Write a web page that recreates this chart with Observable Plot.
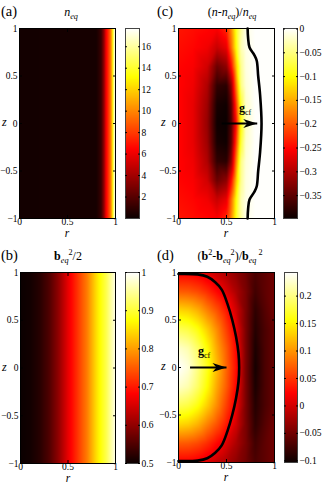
<!DOCTYPE html>
<html><head><meta charset="utf-8">
<script src="https://cdn.jsdelivr.net/npm/d3@7"></script>
<script src="https://cdn.jsdelivr.net/npm/@observablehq/plot@0.6"></script>
<style>
body{margin:0;background:#fff;}
#fig{position:relative;width:323px;height:486px;overflow:hidden;font-family:"Liberation Serif",serif;}
#fig svg{position:absolute;overflow:visible;font-family:"Liberation Serif",serif !important;}
#fig svg text{font-family:"Liberation Serif",serif !important;}
</style></head>
<body><div id="fig"></div>
<script>
// ---------- data ----------
const zGrid = [1, 0.8, 0.6, 0.4, 0.2, 0, -0.2, -0.4, -0.6, -0.8, -1];
const xTicks = [0, 0.5, 1];
const yTicks = [-1, -0.5, 0, 0.5, 1];

// (a) n_eq, radial profile
const rA = [0, 0.8, 0.85, 0.88, 0.9, 0.93, 0.95, 0.96, 0.97, 0.98, 0.99, 1];
const nEq = [0.2, 0.3, 1.2, 3.5, 6, 8, 9.5, 11, 13, 15, 17, 17.6];
const ticksA = [2, 4, 6, 8, 10, 12, 14, 16];
const rangeA = [0, 17.7];

// (b) b_eq^2/2, radial profile
const rB = [0, 0.1, 0.2, 0.3, 0.4, 0.5, 0.6, 0.7, 0.8, 0.9, 1];
const bEq2 = [0.5, 0.505, 0.52, 0.55, 0.6, 0.665, 0.72, 0.775, 0.85, 0.91, 0.99];
const ticksB = [0.5, 0.6, 0.7, 0.8, 0.9, 1];
const rangeB = [0.5, 1];

// (c) (n-n_eq)/n_eq on r x z grid (rows follow zGrid)
const rC = [0, 0.15, 0.3, 0.4, 0.5, 0.55, 0.6, 0.65, 0.7, 0.8, 1];
const dnC = [
  [-0.24, -0.245, -0.25, -0.255, -0.23, -0.17, -0.09, -0.04, -0.01, 0, 0],
  [-0.245, -0.25, -0.26, -0.285, -0.265, -0.19, -0.10, -0.03, -0.01, 0, 0],
  [-0.25, -0.255, -0.28, -0.34, -0.32, -0.25, -0.14, -0.045, -0.012, 0, 0],
  [-0.25, -0.26, -0.30, -0.375, -0.38, -0.32, -0.18, -0.05, -0.015, 0, 0],
  [-0.25, -0.265, -0.31, -0.39, -0.395, -0.35, -0.22, -0.08, -0.02, 0, 0],
  [-0.25, -0.265, -0.315, -0.395, -0.398, -0.36, -0.25, -0.10, -0.025, 0, 0],
  [-0.25, -0.265, -0.31, -0.39, -0.395, -0.35, -0.22, -0.08, -0.02, 0, 0],
  [-0.25, -0.26, -0.30, -0.375, -0.38, -0.32, -0.18, -0.05, -0.015, 0, 0],
  [-0.25, -0.255, -0.28, -0.34, -0.32, -0.25, -0.14, -0.045, -0.012, 0, 0],
  [-0.245, -0.25, -0.26, -0.285, -0.265, -0.19, -0.10, -0.03, -0.01, 0, 0],
  [-0.24, -0.245, -0.25, -0.255, -0.23, -0.17, -0.09, -0.04, -0.01, 0, 0]
];
const ticksC = [-0.35, -0.3, -0.25, -0.2, -0.15, -0.1, -0.05, 0];
const rangeC = [-0.398, 0.001];
const contourCr = [0.72, 0.725, 0.74, 0.79, 0.815, 0.83, 0.85, 0.865, 0.85, 0.83, 0.815, 0.79, 0.74, 0.725, 0.72];
const contourCz = [1, 0.9, 0.8, 0.72, 0.66, 0.5, 0.3, 0, -0.3, -0.5, -0.66, -0.72, -0.8, -0.9, -1];
const arrowCr = [0.45, 0.82];

// (d) (b^2-b_eq^2)/b_eq^2 on r x z grid (rows follow zGrid)
const rD = [0, 0.1, 0.2, 0.3, 0.4, 0.5, 0.6, 0.7, 0.8, 0.9, 1];
const dbD = [
  [0.02, 0.02, 0.015, 0.005, -0.008, -0.02, -0.035, -0.05, -0.07, -0.06, -0.05],
  [0.07, 0.068, 0.06, 0.045, 0.025, 0.005, -0.02, -0.045, -0.075, -0.06, -0.05],
  [0.135, 0.13, 0.115, 0.09, 0.065, 0.035, 0.0, -0.045, -0.085, -0.065, -0.05],
  [0.185, 0.178, 0.16, 0.13, 0.095, 0.055, 0.015, -0.045, -0.09, -0.07, -0.055],
  [0.225, 0.215, 0.19, 0.155, 0.11, 0.07, 0.025, -0.045, -0.095, -0.07, -0.055],
  [0.243, 0.23, 0.2, 0.165, 0.12, 0.075, 0.03, -0.045, -0.098, -0.07, -0.055],
  [0.225, 0.215, 0.19, 0.155, 0.11, 0.07, 0.025, -0.045, -0.095, -0.07, -0.055],
  [0.185, 0.178, 0.16, 0.13, 0.095, 0.055, 0.015, -0.045, -0.09, -0.07, -0.055],
  [0.135, 0.13, 0.115, 0.09, 0.065, 0.035, 0.0, -0.045, -0.085, -0.065, -0.05],
  [0.07, 0.068, 0.06, 0.045, 0.025, 0.005, -0.02, -0.045, -0.075, -0.06, -0.05],
  [0.02, 0.02, 0.015, 0.005, -0.008, -0.02, -0.035, -0.05, -0.07, -0.06, -0.05]
];
const ticksD = [-0.1, -0.05, 0, 0.05, 0.1, 0.15, 0.2];
const rangeD = [-0.103, 0.243];
const contourDr = [0, 0.2, 0.3, 0.38, 0.45, 0.51, 0.56, 0.6, 0.625, 0.632, 0.625, 0.6, 0.56, 0.51, 0.45, 0.38, 0.3, 0.2, 0];
const contourDz = [0.985, 0.98, 0.955, 0.9, 0.82, 0.67, 0.5, 0.32, 0.15, 0, -0.15, -0.32, -0.5, -0.67, -0.82, -0.9, -0.955, -0.98, -0.985];
const arrowDr = [0.12, 0.5];
const arrowZ = 0;

// ---------- helpers ----------
const fmt = d => (d < 0 ? "\u2212" : "") + Math.abs(d);
const blank = () => "";
const FONT = "'Liberation Serif', serif";

function hot([lo, hi]) {
  const s = hi - lo;
  return {type: "linear", domain: [lo, lo + 0.365 * s, lo + 0.746 * s, hi],
          range: ["#0b0000", "#ff0000", "#ffff00", "#ffffff"], interpolate: "rgb", clamp: true};
}
const gridPoints = (rs, rows) => zGrid.flatMap((z, i) => rs.map((r, j) => ({r, z, v: rows[i][j]})));
const profilePoints = (rs, vs) => [yTicks[4], yTicks[0]].flatMap(z => rs.map((r, j) => ({r, z, v: vs[j]})));
const linePoints = (rs, zs) => rs.map((r, i) => ({r, z: zs[i]}));

const stealth = {draw(ctx) {
  ctx.moveTo(0, 0); ctx.lineTo(-14, -4.5); ctx.lineTo(-10, 0); ctx.lineTo(-14, 4.5); ctx.closePath();
}};

const fig = document.getElementById("fig");
const STYLE = `font-family: ${FONT}; font-size: 9.5px; background: transparent; color: black; overflow: visible;`;

function panel(s) {
  const ML = 24, MR = 4, MT = 6, MB = 14;
  const w = s.right - s.left, h = s.bottom - s.top;
  const marks = [
    Plot.raster(s.points, {x: "r", y: "z", fill: "v", interpolate: "barycentric", x1: 0, x2: 1, y1: -1, y2: 1})
  ];
  if (s.contour) marks.push(Plot.line(s.contour, {x: "r", y: "z", stroke: "black", strokeWidth: 2.6, curve: "catmull-rom"}));
  if (s.arrow) {
    marks.push(Plot.link([{r1: s.arrow[0], r2: s.arrow[1], z: arrowZ}], {x1: "r1", x2: "r2", y1: "z", y2: "z", stroke: "black", strokeWidth: 1.8}));
    marks.push(Plot.dot([{r: s.arrow[1], z: arrowZ}], {x: "r", y: "z", symbol: stealth, fill: "black", stroke: null}));
  }
  marks.push(
    Plot.frame({stroke: "black", strokeWidth: 1}),
    Plot.axisX(xTicks, {tickSize: 0, tickPadding: 0, tickFormat: fmt, label: null}),
    Plot.axisX(xTicks, {tickSize: -3, tickFormat: blank, label: null}),
    Plot.axisX(xTicks, {anchor: "top", tickSize: -3, tickFormat: blank, label: null}),
    Plot.axisY(yTicks, {tickSize: 0, tickPadding: 2, tickFormat: fmt, label: null}),
    Plot.axisY(yTicks, {tickSize: -3, tickFormat: blank, label: null}),
    Plot.axisY(yTicks, {anchor: "right", tickSize: -3, tickFormat: blank, label: null})
  );
  const svg = Plot.plot({
    width: ML + w + MR, height: MT + h + MB,
    marginLeft: ML, marginRight: MR, marginTop: MT, marginBottom: MB,
    x: {domain: [0, 1]}, y: {domain: [-1, 1]},
    color: hot(s.range),
    style: STYLE,
    marks
  });
  svg.style.position = "absolute";
  svg.style.left = (s.left - ML) + "px";
  svg.style.top = (s.top - MT) + "px";
  fig.appendChild(svg);

  // colorbar
  const CR = 30;
  const cw = s.cbRight - s.cbLeft;
  const cb = Plot.plot({
    width: cw + CR, height: MT + h + MB,
    marginLeft: 0, marginRight: CR, marginTop: MT, marginBottom: MB,
    x: {domain: [0, 1], axis: null}, y: {domain: s.range, axis: null},
    color: hot(s.range),
    style: STYLE,
    marks: [
      Plot.raster({fill: (x, y) => y, x1: 0, x2: 1, y1: s.range[0], y2: s.range[1], width: 1, height: 300}),
      Plot.frame({stroke: "#444", strokeWidth: 1}),
      Plot.axisY(s.ticks, {anchor: "right", tickSize: 0, tickPadding: 2, tickFormat: fmt, label: null}),
      Plot.axisY(s.ticks, {anchor: "right", tickSize: -2, tickFormat: blank, label: null}),
      Plot.axisY(s.ticks, {anchor: "left", tickSize: -2, tickFormat: blank, label: null})
    ]
  });
  cb.style.position = "absolute";
  cb.style.left = s.cbLeft + "px";
  cb.style.top = (s.top - MT) + "px";
  fig.appendChild(cb);
}

panel({left: 19, right: 115, top: 28, bottom: 218, cbLeft: 125, cbRight: 139,
  points: profilePoints(rA, nEq), range: rangeA, ticks: ticksA});
panel({left: 178, right: 274, top: 28, bottom: 218, cbLeft: 283, cbRight: 297,
  points: gridPoints(rC, dnC), range: rangeC, ticks: ticksC,
  contour: linePoints(contourCr, contourCz), arrow: arrowCr});
panel({left: 20, right: 115, top: 272, bottom: 463, cbLeft: 125, cbRight: 139,
  points: profilePoints(rB, bEq2), range: rangeB, ticks: ticksB});
panel({left: 178, right: 274, top: 272, bottom: 462, cbLeft: 284, cbRight: 297,
  points: gridPoints(rD, dbD), range: rangeD, ticks: ticksD,
  contour: linePoints(contourDr, contourDz), arrow: arrowDr});

// ---------- text overlay: panel letters, titles, axis names ----------
const NS = "http://www.w3.org/2000/svg";
const ov = document.createElementNS(NS, "svg");
ov.setAttribute("width", 323); ov.setAttribute("height", 486);
ov.style.left = "0px"; ov.style.top = "0px";
fig.appendChild(ov);

function txt(x, y, parts, {size = 12, anchor = "start"} = {}) {
  const t = document.createElementNS(NS, "text");
  t.setAttribute("x", x); t.setAttribute("y", y);
  t.setAttribute("font-size", size); t.setAttribute("text-anchor", anchor);
  t.setAttribute("fill", "black");
  let shift = 0;
  for (const p of parts) {
    const sp = document.createElementNS(NS, "tspan");
    sp.textContent = p.t;
    const target = p.sub ? 3 : p.sup ? -5 : 0;
    if (target !== shift) { sp.setAttribute("dy", target - shift); shift = target; }
    if (p.sub || p.sup) sp.setAttribute("font-size", size * 0.68);
    if (p.i) sp.setAttribute("font-style", "italic");
    if (p.b) sp.setAttribute("font-weight", "bold");
    t.appendChild(sp);
  }
  ov.appendChild(t);
}

// panel letters
txt(1, 15.5, [{t: "(a)"}], {size: 14.5});
txt(157, 15.5, [{t: "(c)"}], {size: 14.5});
txt(1, 259.5, [{t: "(b)"}], {size: 14.5});
txt(157, 259.5, [{t: "(d)"}], {size: 14.5});

// titles
txt(71, 16, [{t: "n", i: 1}, {t: "eq", i: 1, sub: 1}], {anchor: "middle"});
txt(232, 16, [{t: "("}, {t: "n", i: 1}, {t: "-"}, {t: "n", i: 1}, {t: "eq", i: 1, sub: 1}, {t: ")/"},
  {t: "n", i: 1}, {t: "eq", i: 1, sub: 1}], {anchor: "middle"});
txt(68, 260, [{t: "b", b: 1}, {t: "eq", i: 1, sub: 1}, {t: "2", sup: 1}, {t: "/2"}], {anchor: "middle"});
txt(230, 260, [{t: "("}, {t: "b", b: 1}, {t: "2", sup: 1}, {t: "-"}, {t: "b", b: 1}, {t: "eq", i: 1, sub: 1},
  {t: "2", sup: 1}, {t: ")/"}, {t: "b", b: 1}, {t: "eq", i: 1, sub: 1}, {t: " 2", sup: 1}], {anchor: "middle"});

// axis names
txt(2, 126, [{t: "z", i: 1}]);
txt(161, 126, [{t: "z", i: 1}]);
txt(2, 371, [{t: "z", i: 1}]);
txt(161, 370, [{t: "z", i: 1}]);
txt(67, 237, [{t: "r", i: 1}], {size: 11.5, anchor: "middle"});
txt(226, 237, [{t: "r", i: 1}], {size: 11.5, anchor: "middle"});
txt(68, 481.5, [{t: "r", i: 1}], {size: 11.5, anchor: "middle"});
txt(226, 481, [{t: "r", i: 1}], {size: 11.5, anchor: "middle"});

// g_cf labels near the arrows
txt(239, 112, [{t: "g", b: 1}, {t: "cf", sub: 1}]);
txt(198, 355, [{t: "g", b: 1}, {t: "cf", sub: 1}]);
</script>
</body></html>
